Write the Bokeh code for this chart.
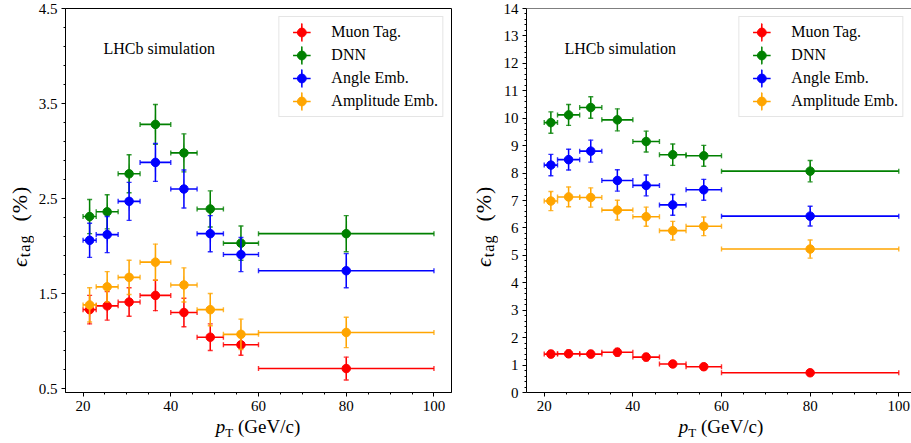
import numpy as np
from bokeh.plotting import figure
from bokeh.layouts import row, column
from bokeh.models import (ColumnDataSource, Range1d, FixedTicker, Label,
                          Legend, LegendItem, Span, Div)
from bokeh.embed import file_html
from bokeh.resources import INLINE

# ---------------- data ----------------
bin_edges = [20, 23, 28, 33, 40, 46, 52, 60, 100]
series_names = ["Muon Tag.", "DNN", "Angle Emb.", "Amplitude Emb."]
series_colors = ["#ff0000", "#008000", "#0000ff", "#ffa500"]

# left panel (%)
muon_left = [1.33, 1.37, 1.41, 1.48, 1.30, 1.04, 0.96, 0.71]
muon_left_err = [0.15, 0.15, 0.15, 0.16, 0.15, 0.14, 0.11, 0.12]
dnn_left = [2.31, 2.36, 2.76, 3.28, 2.98, 2.39, 2.03, 2.13]
dnn_left_err = [0.18, 0.18, 0.20, 0.21, 0.20, 0.19, 0.18, 0.19]
angle_left = [2.06, 2.12, 2.47, 2.88, 2.60, 2.13, 1.91, 1.74]
angle_left_err = [0.18, 0.19, 0.20, 0.20, 0.20, 0.19, 0.18, 0.18]
ampl_left = [1.38, 1.57, 1.67, 1.83, 1.59, 1.33, 1.07, 1.09]
ampl_left_err = [0.18, 0.16, 0.18, 0.19, 0.18, 0.17, 0.16, 0.16]

# right panel (%)
muon_right = [1.40, 1.41, 1.40, 1.47, 1.29, 1.04, 0.94, 0.72]
muon_right_err = [0.13, 0.13, 0.13, 0.14, 0.13, 0.12, 0.11, 0.10]
dnn_right = [9.84, 10.12, 10.39, 9.94, 9.15, 8.67, 8.63, 8.07]
dnn_right_err = [0.39, 0.38, 0.39, 0.40, 0.38, 0.39, 0.38, 0.39]
angle_right = [8.29, 8.49, 8.80, 7.73, 7.55, 6.84, 7.39, 6.43]
angle_right_err = [0.39, 0.38, 0.40, 0.39, 0.38, 0.38, 0.38, 0.36]
ampl_right = [6.98, 7.13, 7.11, 6.65, 6.41, 5.90, 6.06, 5.23]
ampl_right_err = [0.35, 0.36, 0.35, 0.36, 0.35, 0.34, 0.34, 0.33]

x_ticks = [20, 40, 60, 80, 100]
x_minor_ticks = [25, 30, 35, 45, 50, 55, 65, 70, 75, 85, 90, 95]
left_y_ticks = [0.5, 1.5, 2.5, 3.5, 4.5]
left_y_minor = [round(0.5 + 0.2 * k, 2) for k in range(21) if k % 5 != 0]
right_y_ticks = list(range(0, 15))
right_y_minor = [round(0.2 * k, 2) for k in range(71) if k % 5 != 0]

x_label_html = ('<span style="font-style:italic">p</span>'
                '<span style="font-size:13px;vertical-align:-4px;line-height:0">T</span>'
                ' (GeV/c)')
y_label_html = ('<span style="font-style:italic">ϵ</span>'
                '<span style="font-size:16px;vertical-align:-5px;line-height:0">tag</span>'
                '&nbsp; (%)')

FONT = "Liberation Serif"
FIG_H = 418

edges = np.array(bin_edges, dtype=float)
x_center = (edges[:-1] + edges[1:]) / 2
x_half = (edges[1:] - edges[:-1]) / 2


def xlabel_div(width, pad_left):
    inner = (f'<div style="width:{width}px;height:25px;box-sizing:border-box;'
             f'padding-left:{pad_left}px;text-align:center;font-family:\'{FONT}\';'
             f'font-size:19px;line-height:17px;color:black;white-space:nowrap;">'
             f'{x_label_html}</div>')
    return Div(text=inner, width=width, height=25, margin=0,
               styles={"font-size": "0px", "line-height": "0px"})


def ylabel_div(width, pad_bottom, pad_left):
    inner = (f'<div style="width:{width}px;height:{FIG_H}px;box-sizing:border-box;'
             f'writing-mode:vertical-rl;transform:rotate(180deg);'
             f'padding-top:{pad_bottom}px;padding-right:{pad_left}px;'
             f'text-align:start;font-family:\'{FONT}\';font-size:22px;'
             f'letter-spacing:1px;line-height:20px;color:black;white-space:nowrap;">'
             f'{y_label_html}</div>')
    return Div(text=inner, width=width, height=FIG_H, margin=0,
               styles={"font-size": "0px", "line-height": "0px"})


def make_panel(values, errors, y_start, y_end, yticks, yminor, width,
               mbl, mbr, x_end, right_panel=False):
    p = figure(width=width, height=FIG_H, output_backend="svg",
               toolbar_location=None, x_range=Range1d(16, x_end),
               y_range=Range1d(y_start, y_end),
               min_border_left=mbl, min_border_right=mbr,
               min_border_top=8, min_border_bottom=26)
    p.background_fill_color = "white"
    p.border_fill_color = "white"
    p.xgrid.visible = False
    p.ygrid.visible = False
    if right_panel:
        p.outline_line_color = None
        p.add_layout(Span(location=y_end, dimension="width",
                          line_color="black", line_width=1))
    else:
        p.outline_line_color = "black"
        p.outline_line_alpha = 1.0
        p.outline_line_width = 1

    p.xaxis.ticker = FixedTicker(ticks=x_ticks, minor_ticks=x_minor_ticks)
    p.yaxis.ticker = FixedTicker(ticks=yticks, minor_ticks=yminor)
    for ax in (p.xaxis[0], p.yaxis[0]):
        ax.axis_line_color = "black"
        ax.major_tick_line_color = "black"
        ax.minor_tick_line_color = "black"
        ax.major_tick_in = 0
        ax.major_tick_out = 4
        ax.minor_tick_in = 0
        ax.minor_tick_out = 2
        ax.major_label_text_font = FONT
        ax.major_label_text_font_size = "15px"
        ax.major_label_text_color = "black"
        ax.major_label_standoff = 4

    items = []
    for name, color, vals, errs in zip(series_names, series_colors, values, errors):
        v = np.array(vals, dtype=float)
        e = np.array(errs, dtype=float)
        src = ColumnDataSource(dict(
            x=x_center, y=v, xw=2 * x_half, yh=2 * e,
            xlo=x_center - x_half, xhi=x_center + x_half,
            ylo=v - e, yhi=v + e))
        hbar = p.ellipse(x="x", y="y", width="xw", height=0, source=src,
                         fill_color=None, line_color=color, line_width=1.6)
        vbar = p.ellipse(x="x", y="y", width=0.1, width_units="screen",
                         height="yh", source=src,
                         fill_color=None, line_color=color, line_width=1.6)
        for cx, cy, ang in (("x", "ylo", 0), ("x", "yhi", 0),
                            ("xlo", "y", np.pi / 2), ("xhi", "y", np.pi / 2)):
            p.scatter(x=cx, y=cy, source=src, marker="dash", size=5, angle=ang,
                      line_color=color, line_width=1.4, line_alpha=0.8)
        dots = p.scatter(x="x", y="y", source=src, marker="circle", size=8.5,
                         fill_color=color, line_color=color)
        items.append(LegendItem(label=name, renderers=[hbar, vbar, dots]))

    legend = Legend(items=items, location="top_right", margin=8, padding=4,
                    spacing=1, glyph_height=22, glyph_width=36,
                    label_standoff=12, label_text_font=FONT,
                    label_text_font_size="16px", label_text_color="black",
                    border_line_color="#cccccc", border_line_width=1,
                    background_fill_alpha=0.8)
    p.add_layout(legend)

    p.add_layout(Label(x=16, y=y_end, x_offset=38, y_offset=-40,
                       text="LHCb simulation", text_font=FONT,
                       text_font_size="16px", text_color="black",
                       text_align="left", text_baseline="alphabetic"))
    return p


left = make_panel([muon_left, dnn_left, angle_left, ampl_left],
                  [muon_left_err, dnn_left_err, angle_left_err, ampl_left_err],
                  0.458, 4.5, left_y_ticks, left_y_minor, 436, 31, 19, 104)
right = make_panel([muon_right, dnn_right, angle_right, ampl_right],
                   [muon_right_err, dnn_right_err, angle_right_err, ampl_right_err],
                   0, 14, right_y_ticks, right_y_minor, 411, 26, 0, 102.87,
                   right_panel=True)

left_block = column(row(ylabel_div(34, 151, 10), left), xlabel_div(470, 46))
right_block = column(row(ylabel_div(30, 151, 4), right), xlabel_div(441, 61))
layout = row(left_block, right_block)
open("out.html", "w").write(file_html(layout, INLINE))
